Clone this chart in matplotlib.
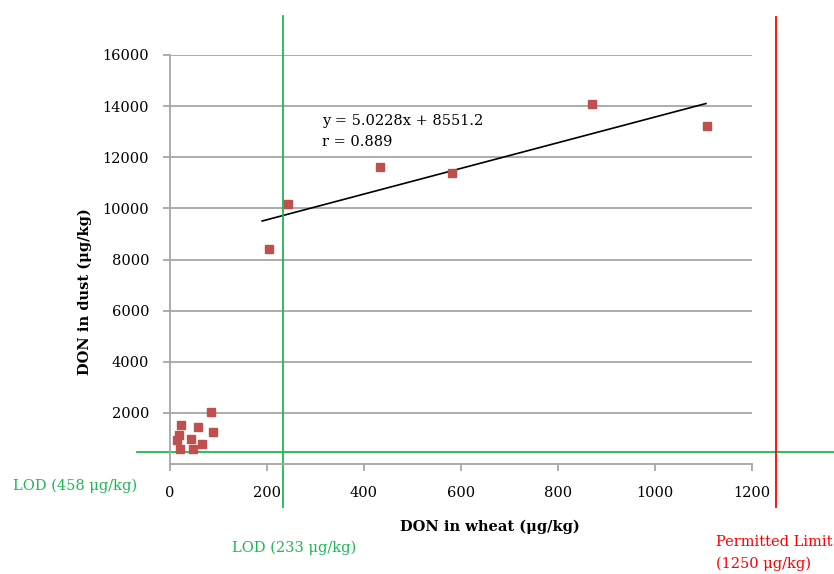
import matplotlib.pyplot as plt
import numpy as np

plt.rcParams["font.family"] = ["DejaVu Serif"]

# DON in wheat vs DON in dust (ug/kg)
wheat = [204, 243, 433, 581, 870, 1107,
         85, 23, 57, 88, 18, 15, 43, 65, 20, 48]
dust = [8430, 10160, 11600, 11370, 14080, 13220,
        2040, 1530, 1460, 1260, 1150, 940, 990, 800, 580, 590]

slope = 5.0228
intercept = 8551.2
r_value = 0.889
fit_range = [190, 1105]

lod_dust = 458
lod_wheat = 233
permitted = 1250

x_ticks = [0, 200, 400, 600, 800, 1000, 1200]
y_ticks = [2000, 4000, 6000, 8000, 10000, 12000, 14000, 16000]

green = "#1DB954"
red = "#FF0000"
grid_col = "#A6A6A6"

fig = plt.figure(figsize=(8.34, 5.74), dpi=100)
ax = fig.add_axes([170 / 834, 1 - 464 / 574, 582 / 834, 409 / 574])

ax.set_xlim(0, 1200)
ax.set_ylim(0, 16000)
ax.set_xticks(x_ticks)
ax.set_yticks(y_ticks)
ax.yaxis.grid(True, color=grid_col, linewidth=1.3)
ax.set_axisbelow(True)
for side in ["top", "right"]:
    ax.spines[side].set_visible(False)
for side in ["left", "bottom"]:
    ax.spines[side].set_color(grid_col)
    ax.spines[side].set_linewidth(1.3)
ax.tick_params(colors=grid_col, length=5, width=1.3, labelcolor="black",
               labelsize=10.5)
ax.tick_params(axis="x", pad=11)
ax.tick_params(axis="y", pad=10)

ax.plot(wheat, dust, "s", color="#C0504D", markersize=5.5, zorder=3)

fx = np.array(fit_range)
ax.plot(fx, slope * fx + intercept, color="black", linewidth=1.2)
ax.text(313, 13000, f"y = {slope}x + {intercept}\nr = {r_value}",
        fontsize=10.5, va="center", ha="left", linespacing=1.65)

# limit lines, reaching outside the plot area
ax.axhline(lod_dust, xmin=-33 / 582, xmax=664 / 582, color=green,
           linewidth=1.3, clip_on=False)
ax.axvline(lod_wheat, ymin=-43 / 409, ymax=448 / 409, color=green,
           linewidth=1.3, clip_on=False)
ax.axvline(permitted, ymin=-43 / 409, ymax=447 / 409, color=red,
           linewidth=1.3, clip_on=False)

fig.text(13 / 834, 1 - 486 / 574, "LOD (458 μg/kg)", color=green,
         fontsize=10.5, va="center", ha="left")
fig.text(232 / 834, 1 - 548 / 574, "LOD (233 μg/kg)", color=green,
         fontsize=10.5, va="center", ha="left")
fig.text(716 / 834, 1 - 553 / 574, "Permitted Limit\n(1250 μg/kg)", color=red,
         fontsize=10.5, va="center", ha="left", linespacing=1.65)

fig.text(490 / 834, 1 - 527 / 574, "DON in wheat (μg/kg)", fontweight="bold",
         fontsize=10.5, va="center", ha="center")
fig.text(85 / 834, 1 - 292 / 574, "DON in dust (μg/kg)", fontweight="bold",
         fontsize=10.5, va="center", ha="center", rotation=90)

fig.savefig("out.png", dpi=100)
